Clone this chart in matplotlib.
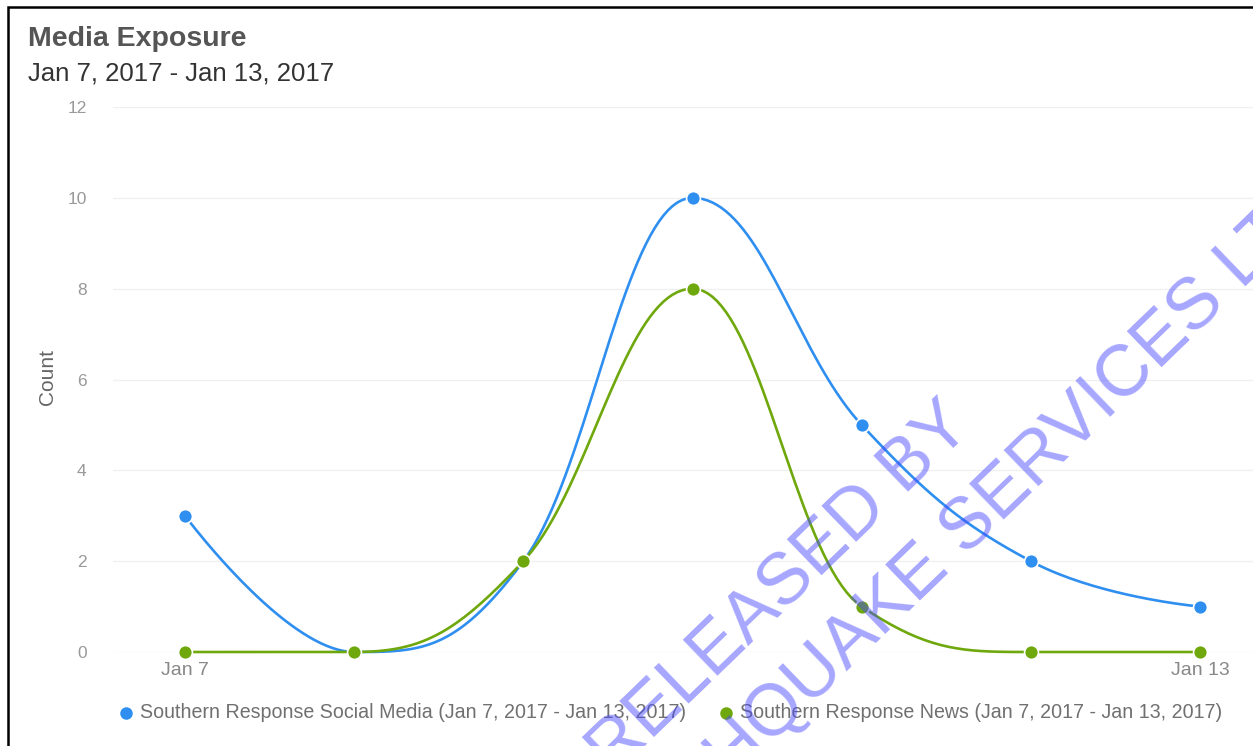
import numpy as np
import matplotlib.pyplot as plt
from matplotlib.lines import Line2D
from matplotlib.patches import Rectangle

plt.rcParams["font.family"] = ["Liberation Sans", "DejaVu Sans"]

W, H = 1253, 746

DAYS = ["Jan 7", "Jan 8", "Jan 9", "Jan 10", "Jan 11", "Jan 12", "Jan 13"]
SOCIAL = [3, 0, 2, 10, 5, 2, 1]
NEWS = [0, 0, 2, 8, 1, 0, 0]
SERIES_NAMES = [
    "Southern Response Social Media (Jan 7, 2017 - Jan 13, 2017)",
    "Southern Response News (Jan 7, 2017 - Jan 13, 2017)",
]
COLORS = ["#2f8ff0", "#6fa80c"]
Y_TICKS = [0, 2, 4, 6, 8, 10, 12]


def spline_path(xs, ys, smoothing=1.5, steps=40):
    # highcharts-style spline: cubic bezier with clamped control points
    n = len(xs)
    denom = smoothing + 1
    lc = [(xs[i], ys[i]) for i in range(n)]
    rc = [(xs[i], ys[i]) for i in range(n)]
    for i in range(1, n - 1):
        lx, ly = xs[i - 1], ys[i - 1]
        px, py = xs[i], ys[i]
        nx, ny = xs[i + 1], ys[i + 1]
        lcx = (smoothing * px + lx) / denom
        lcy = (smoothing * py + ly) / denom
        rcx = (smoothing * px + nx) / denom
        rcy = (smoothing * py + ny) / denom
        if rcx != lcx:
            corr = (rcy - lcy) * (rcx - px) / (rcx - lcx) + py - rcy
            lcy += corr
            rcy += corr
        if lcy > ly and lcy > py:
            lcy = max(ly, py)
            rcy = 2 * py - lcy
        elif lcy < ly and lcy < py:
            lcy = min(ly, py)
            rcy = 2 * py - lcy
        if rcy > ny and rcy > py:
            rcy = max(ny, py)
            lcy = 2 * py - rcy
        elif rcy < ny and rcy < py:
            rcy = min(ny, py)
            lcy = 2 * py - rcy
        lc[i] = (lcx, lcy)
        rc[i] = (rcx, rcy)
    t = np.linspace(0, 1, steps)
    out_x, out_y = [], []
    for i in range(1, n):
        p0 = np.array([xs[i - 1], ys[i - 1]], float)
        p1 = np.array(rc[i - 1], float)
        p2 = np.array(lc[i], float)
        p3 = np.array([xs[i], ys[i]], float)
        pts = ((1 - t) ** 3)[:, None] * p0 + (3 * (1 - t) ** 2 * t)[:, None] * p1 \
            + (3 * (1 - t) * t ** 2)[:, None] * p2 + (t ** 3)[:, None] * p3
        out_x.extend(pts[:, 0])
        out_y.extend(pts[:, 1])
    return np.array(out_x), np.array(out_y)


fig = plt.figure(figsize=(W / 100, H / 100), dpi=100)
ax = fig.add_axes([113 / W, 1 - 652 / H, (W - 113) / W, 545 / H])

x = np.arange(len(DAYS))
for vals, color in zip([SOCIAL, NEWS], COLORS):
    sx, sy = spline_path(x, vals)
    ax.plot(sx, sy, color=color, lw=1.9, clip_on=False, solid_capstyle="round")
    ax.plot(x, vals, "o", color=color, ms=10, mec="white", mew=1.2, clip_on=False)

px_per_day = (1200 - 185) / 6
ax.set_xlim((113 - 185) / px_per_day, (W - 185) / px_per_day)
ax.set_ylim(0, 12)
ax.set_yticks(Y_TICKS)
ax.set_yticklabels([str(v) for v in Y_TICKS])
ax.set_xticks([0, 6])
ax.set_xticklabels([DAYS[0], DAYS[-1]])
ax.tick_params(axis="y", length=0, pad=19, labelsize=12.5, labelcolor="#999999")
ax.tick_params(axis="x", length=0, pad=7, labelsize=14, labelcolor="#888888")
ax.grid(axis="y", color="#f0f0f0", lw=1)
ax.set_axisbelow(True)
for s in ax.spines.values():
    s.set_visible(False)

fig.text(47 / W, 1 - 377 / H, "Count", rotation=90, ha="center", va="center",
         fontsize=15, color="#666666")

fig.text(28 / W, 1 - 46 / H, "Media Exposure", fontsize=20.5, fontweight="bold",
         color="#555555", ha="left", va="baseline")
fig.text(28 / W, 1 - 80 / H, "Jan 7, 2017 - Jan 13, 2017", fontsize=18.5,
         color="#333333", ha="left", va="baseline")

# legend
for (mx, tx), name, color in zip([(126, 140), (726, 740)], SERIES_NAMES, COLORS):
    fig.add_artist(Line2D([mx / W], [1 - 713 / H], marker="o", ms=9, color=color,
                          mec="none", transform=fig.transFigure))
    fig.text(tx / W, 1 - 713 / H, name, fontsize=14.1, color="#707070",
             ha="left", va="center")

# outer frame
fig.add_artist(Rectangle((8 / W, -0.1), 1.2, 1 - 7 / H + 0.1, fill=False,
                         ec="black", lw=1.8, transform=fig.transFigure))

# watermark
wm_kw = dict(fontsize=52, color=(0.28, 0.28, 1.0), alpha=0.48, rotation=44,
             rotation_mode="anchor", ha="left", va="baseline", zorder=20)
fig.text(613 / W, 1 - 777 / H, "RELEASED BY", **wm_kw)
fig.text(593 / W, 1 - 915 / H, "EARTHQUAKE SERVICES LTD", **wm_kw)

fig.savefig("out.png", dpi=100)
